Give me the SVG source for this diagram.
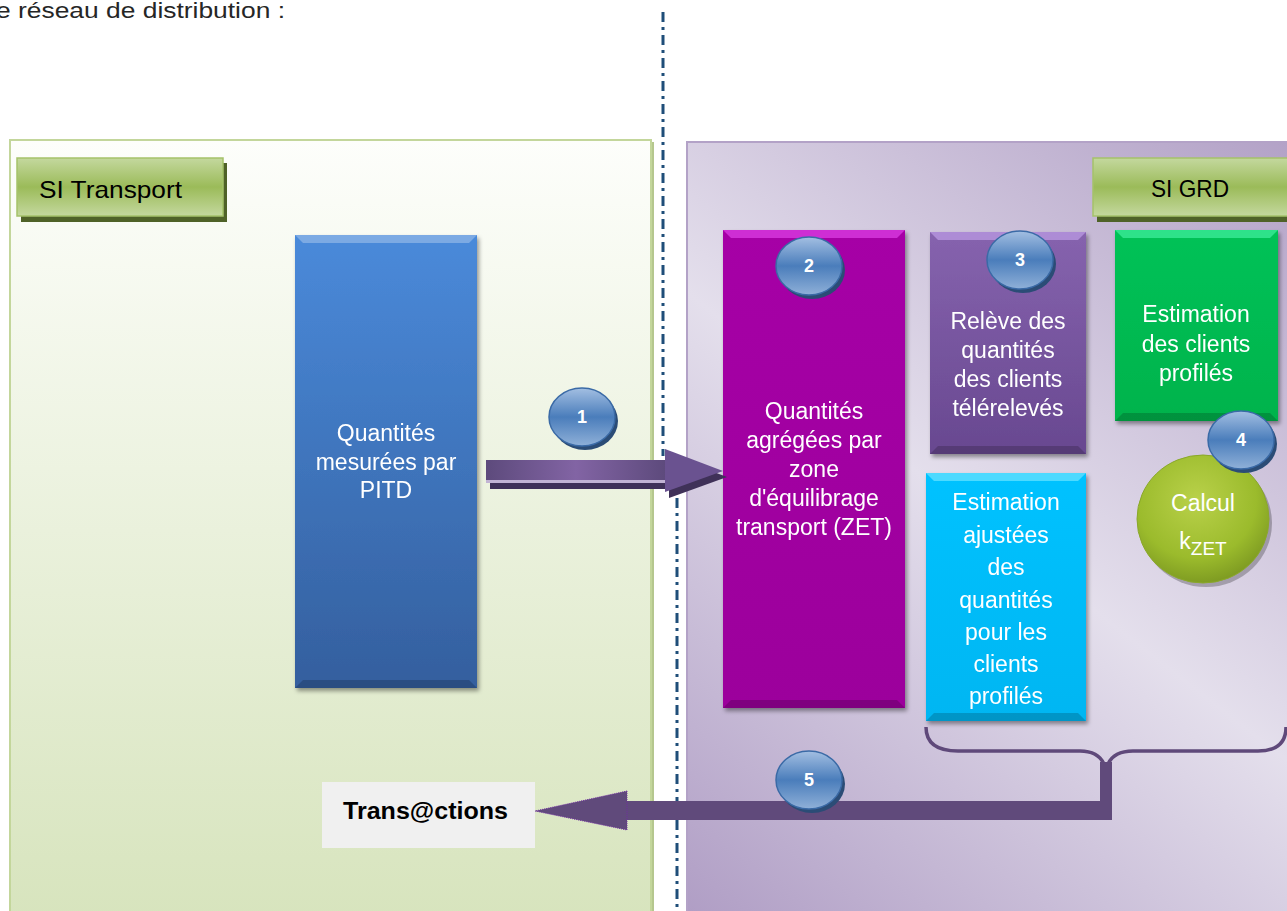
<svg xmlns="http://www.w3.org/2000/svg" width="1287" height="911" viewBox="0 0 1287 911">
<style>
text{font-family:"Liberation Sans",Arial,sans-serif}
.wt{fill:#ffffff;font-size:23px;text-anchor:middle}
.num{fill:#ffffff;font-size:18px;font-weight:bold;text-anchor:middle}
.bev-b{fill:#000000;opacity:.18}
.dash{stroke:#1f4e79;stroke-width:3;stroke-dasharray:10 5 3 5;fill:none}
.brace{fill:none;stroke:#5f497a;stroke-width:3.5}
</style>
<defs>
<linearGradient id="gLeft" x1="0" y1="0" x2="0" y2="1">
<stop offset="0" stop-color="#fdfefb"/><stop offset="1" stop-color="#d7e4bd"/>
</linearGradient>
<linearGradient id="gRight" gradientUnits="userSpaceOnUse" x1="1287" y1="142" x2="687" y2="911">
<stop offset="0" stop-color="#b3a2c7"/><stop offset="0.5" stop-color="#e4dfec"/><stop offset="1" stop-color="#b09ec5"/>
</linearGradient>
<linearGradient id="gLabel" x1="0" y1="0" x2="0" y2="1">
<stop offset="0" stop-color="#c4d89e"/><stop offset="0.5" stop-color="#9bbb59"/><stop offset="1" stop-color="#c4d89e"/>
</linearGradient>
<linearGradient id="gBlue" x1="0" y1="0" x2="0" y2="1">
<stop offset="0" stop-color="#4a8ada"/><stop offset="1" stop-color="#345f9e"/>
</linearGradient>
<linearGradient id="gMag" x1="0" y1="0" x2="0" y2="1">
<stop offset="0" stop-color="#a600a6"/><stop offset="1" stop-color="#9c009c"/>
</linearGradient>
<linearGradient id="gVio" x1="0" y1="0" x2="0" y2="1">
<stop offset="0" stop-color="#8663ae"/><stop offset="1" stop-color="#684890"/>
</linearGradient>
<linearGradient id="gGreen" x1="0" y1="0" x2="0" y2="1">
<stop offset="0" stop-color="#00c257"/><stop offset="1" stop-color="#00b34c"/>
</linearGradient>
<linearGradient id="gCyan" x1="0" y1="0" x2="0" y2="1">
<stop offset="0" stop-color="#05c2ff"/><stop offset="1" stop-color="#00b6f2"/>
</linearGradient>
<linearGradient id="gNum" x1="0" y1="0" x2="0" y2="1">
<stop offset="0" stop-color="#a3bfe2"/><stop offset="0.5" stop-color="#4a7dbb"/><stop offset="1" stop-color="#8fb0d8"/>
</linearGradient>
<radialGradient id="gCalc" cx="0.45" cy="0.35" r="0.65">
<stop offset="0" stop-color="#b9d14a"/><stop offset="0.7" stop-color="#9bbb2c"/><stop offset="1" stop-color="#7f9c22"/>
</radialGradient>
<linearGradient id="gArrow" x1="0" y1="0" x2="1" y2="0">
<stop offset="0" stop-color="#5d4a7c"/><stop offset="0.5" stop-color="#8264a4"/><stop offset="1" stop-color="#5d4a7c"/>
</linearGradient>
<filter id="sh" x="-10%" y="-10%" width="130%" height="130%">
<feDropShadow dx="2" dy="3" stdDeviation="2" flood-color="#000" flood-opacity="0.4"/>
</filter>
</defs>

<rect width="1287" height="911" fill="#ffffff"/>
<text x="-4" y="18" font-size="22" fill="#262626" textLength="289" lengthAdjust="spacingAndGlyphs">e réseau de distribution :</text>

<g id="panel-transport">
<rect x="10" y="140" width="641" height="780" fill="url(#gLeft)" stroke="#c3d69b" stroke-width="2"/>
<line x1="653" y1="142" x2="653" y2="911" stroke="#b5c78e" stroke-width="2"/>
</g>
<g id="panel-grd">
<rect x="687" y="142" width="620" height="780" fill="url(#gRight)" stroke="#b3a2c7" stroke-width="2"/>
</g>

<g id="dashline">
<line class="dash" x1="663" y1="12" x2="663" y2="456"/>
<line class="dash" x1="677" y1="498" x2="677" y2="911"/>
</g>

<g id="label-si-transport">
<rect x="21" y="163" width="206" height="59" fill="#4f6228"/>
<rect x="17" y="158" width="206" height="58" fill="url(#gLabel)" stroke="#a5c26a" stroke-width="1.5"/>
<text x="39" y="198" font-size="24" fill="#000" textLength="143" lengthAdjust="spacingAndGlyphs">SI Transport</text>
</g>
<g id="label-si-grd">
<rect x="1097" y="163" width="200" height="59" fill="#4f6228"/>
<rect x="1093" y="158" width="200" height="58" fill="url(#gLabel)" stroke="#a5c26a" stroke-width="1.5"/>
<text x="1190" y="197" font-size="24" fill="#000" text-anchor="middle" textLength="78" lengthAdjust="spacingAndGlyphs">SI GRD</text>
</g>

<g id="node-pitd" filter="url(#sh)">
<rect x="295" y="235" width="182" height="453" fill="url(#gBlue)"/>
<polygon points="295,235 477,235 469,243 303,243" fill="#ffffff" opacity="0.28"/>
<polygon class="bev-b" points="295,688 477,688 469,680 303,680"/>
<text class="wt" x="386" y="441">Quantités</text>
<text class="wt" x="386" y="470">mesurées par</text>
<text class="wt" x="386" y="498">PITD</text>
</g>

<g id="node-zet" filter="url(#sh)">
<rect x="723" y="230" width="182" height="478" fill="url(#gMag)"/>
<polygon points="723,230 905,230 897,238 731,238" fill="#e040e8" opacity="0.7"/>
<polygon class="bev-b" points="723,708 905,708 897,700 731,700"/>
<text class="wt" x="814" y="419">Quantités</text>
<text class="wt" x="814" y="448">agrégées par</text>
<text class="wt" x="814" y="477">zone</text>
<text class="wt" x="814" y="506">d'équilibrage</text>
<text class="wt" x="814" y="535">transport (ZET)</text>
</g>

<g id="node-releve" filter="url(#sh)">
<rect x="930" y="232" width="156" height="222" fill="url(#gVio)"/>
<polygon points="930,232 1086,232 1078,240 938,240" fill="#c8a8f0" opacity="0.6"/>
<polygon class="bev-b" points="930,454 1086,454 1078,446 938,446"/>
<text class="wt" x="1008" y="329">Relève des</text>
<text class="wt" x="1008" y="358">quantités</text>
<text class="wt" x="1008" y="387">des clients</text>
<text class="wt" x="1008" y="416">télérelevés</text>
</g>

<g id="node-estim" filter="url(#sh)">
<rect x="1115" y="230" width="163" height="191" fill="url(#gGreen)"/>
<polygon points="1115,230 1278,230 1270,238 1123,238" fill="#40f0a0" opacity="0.7"/>
<polygon class="bev-b" points="1115,421 1278,421 1270,413 1123,413"/>
<text class="wt" x="1196" y="322">Estimation</text>
<text class="wt" x="1196" y="352">des clients</text>
<text class="wt" x="1196" y="381">profilés</text>
</g>

<g id="node-ajust" filter="url(#sh)">
<rect x="926" y="473" width="160" height="248" fill="url(#gCyan)"/>
<polygon points="926,473 1086,473 1078,481 934,481" fill="#60e0ff" opacity="0.8"/>
<polygon class="bev-b" points="926,721 1086,721 1078,713 934,713"/>
<text class="wt" x="1006" y="510" font-size="26">Estimation</text>
<text class="wt" x="1006" y="543" font-size="26">ajustées</text>
<text class="wt" x="1006" y="575" font-size="26">des</text>
<text class="wt" x="1006" y="608" font-size="26">quantités</text>
<text class="wt" x="1006" y="640" font-size="26">pour les</text>
<text class="wt" x="1006" y="672" font-size="26">clients</text>
<text class="wt" x="1006" y="704" font-size="26">profilés</text>
</g>

<g id="node-calcul">
<ellipse cx="1206" cy="523" rx="66" ry="64" fill="#000" opacity="0.25"/>
<ellipse cx="1203" cy="519" rx="66" ry="64" fill="url(#gCalc)" stroke="#8aa82a" stroke-width="1"/>
<text class="wt" x="1203" y="511" font-size="32">Calcul</text>
<text class="wt" x="1203" y="549" font-size="32">k<tspan font-size="19" dy="6">ZET</tspan></text>
</g>

<g id="connectors">
<g id="arrow-1">
<rect x="490" y="482" width="178" height="7" fill="#3f3158"/>
<polygon points="669,455 727,477 669,498" fill="#3f3158"/>
<rect x="486" y="479" width="180" height="4" fill="#c2b4d4"/>
<rect x="486" y="460" width="180" height="20" fill="url(#gArrow)"/>
<polygon points="665,449 723,471 665,492" fill="#6a5290"/>
</g>
<g id="brace">
<path class="brace" d="M926,727 Q926,751 958,751 L1080,751 Q1098,751 1104,764"/>
<path class="brace" d="M1108,764 Q1114,751 1133,751 L1258,751 Q1286,751 1286,727"/>
</g>
<g id="arrow-5">
<rect x="1100" y="762" width="12" height="58" fill="#604a7b"/>
<rect x="624" y="801" width="488" height="19" fill="#604a7b"/>
<polygon points="627,791 535,811 627,830" fill="#604a7b" stroke="#7030a0" stroke-width="1" stroke-dasharray="1 1"/>
</g>
</g>

<g id="num-1">
<ellipse cx="585" cy="421" rx="33" ry="29" fill="#2b4c76"/>
<ellipse cx="582" cy="417" rx="33" ry="29" fill="url(#gNum)" stroke="#3a6aa6" stroke-width="1.5"/>
<text class="num" x="582" y="423">1</text>
</g>
<g id="num-2">
<ellipse cx="812" cy="270" rx="33" ry="29" fill="#2b4c76"/>
<ellipse cx="809" cy="266" rx="33" ry="29" fill="url(#gNum)" stroke="#3a6aa6" stroke-width="1.5"/>
<text class="num" x="809" y="272">2</text>
</g>
<g id="num-3">
<ellipse cx="1023" cy="264" rx="33" ry="29" fill="#2b4c76"/>
<ellipse cx="1020" cy="260" rx="33" ry="29" fill="url(#gNum)" stroke="#3a6aa6" stroke-width="1.5"/>
<text class="num" x="1020" y="266">3</text>
</g>
<g id="num-4">
<ellipse cx="1244" cy="444" rx="33" ry="29" fill="#2b4c76"/>
<ellipse cx="1241" cy="440" rx="33" ry="29" fill="url(#gNum)" stroke="#3a6aa6" stroke-width="1.5"/>
<text class="num" x="1241" y="446">4</text>
</g>
<g id="num-5">
<ellipse cx="812" cy="784" rx="33" ry="29" fill="#2b4c76"/>
<ellipse cx="809" cy="780" rx="33" ry="29" fill="url(#gNum)" stroke="#3a6aa6" stroke-width="1.5"/>
<text class="num" x="809" y="786">5</text>
</g>

<g id="node-transactions">
<rect x="322" y="782" width="213" height="66" fill="#f0f0f0"/>
<text x="343" y="819" font-size="23" font-weight="bold" fill="#000" textLength="165" lengthAdjust="spacingAndGlyphs">Trans@ctions</text>
</g>
</svg>
